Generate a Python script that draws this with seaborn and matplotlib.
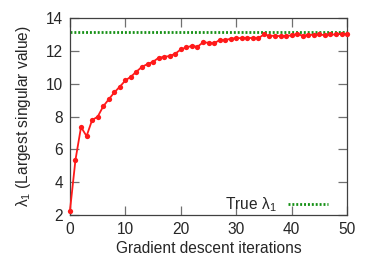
import numpy as np
import pandas as pd
import matplotlib
matplotlib.use("Agg")
import matplotlib.pyplot as plt
import seaborn as sns

# ---------------------------------------------------------------------------
# Dati
# ---------------------------------------------------------------------------

iterazioni = list(range(51))
lambda_stima = [
    2.26, 5.37, 7.36, 6.81, 7.79, 7.99, 8.62, 9.05, 9.47, 9.82,
    10.20, 10.43, 10.74, 11.03, 11.20, 11.34, 11.58, 11.64, 11.69, 11.83,
    12.09, 12.21, 12.31, 12.25, 12.52, 12.50, 12.46, 12.66, 12.66, 12.74,
    12.78, 12.78, 12.80, 12.78, 12.78, 13.00, 12.92, 12.92, 12.90, 12.92,
    12.94, 13.04, 12.92, 12.98, 12.98, 13.00, 12.96, 13.00, 13.00, 13.04,
    13.03,
]
lambda_vero = 13.15

# ---------------------------------------------------------------------------
# Configurazione
# ---------------------------------------------------------------------------

sns.set_style("ticks")
plt.rcParams["font.family"] = ["Liberation Sans", "DejaVu Sans"]
plt.rcParams["mathtext.fontset"] = "custom"
plt.rcParams["mathtext.rm"] = "Liberation Sans"
plt.rcParams["mathtext.it"] = "Liberation Sans"
plt.rcParams["mathtext.default"] = "rm"

FS = 11.2

df = pd.DataFrame({"iter": iterazioni, "lam": lambda_stima})

fig = plt.figure(figsize=(3.74, 2.62), dpi=100)
ax = fig.add_axes([0.187, 0.179, 0.741, 0.752])

sns.lineplot(
    data=df, x="iter", y="lam", ax=ax,
    color="#ff1a1a", linewidth=1.3, marker="o", markersize=3.8,
    markeredgewidth=0, clip_on=False, zorder=3,
)
ax.axhline(lambda_vero, color="#159015", linestyle=(0, (0.7, 0.7)),
           linewidth=2.0, label=r"True $\lambda_1$", zorder=2)

ax.set_xlim(0, 50)
ax.set_ylim(2, 14)
ax.set_xticks(range(0, 51, 10))
ax.set_yticks(range(2, 15, 2))
ax.set_xlabel("Gradient descent iterations", fontsize=FS, labelpad=3)
ax.set_ylabel(r"$\lambda_1$ (Largest singular value)", fontsize=FS, labelpad=9)

for lato in ["top", "right", "bottom", "left"]:
    ax.spines[lato].set_visible(True)
    ax.spines[lato].set_color("#404040")
    ax.spines[lato].set_linewidth(0.9)
ax.tick_params(direction="in", length=6.5, width=0.9, color="#707070",
               top=True, right=True, labelsize=FS, pad=5)

ax.legend(loc="lower right", frameon=False, markerfirst=False,
          handlelength=2.6, handletextpad=0.7, fontsize=FS,
          borderaxespad=0.0, bbox_to_anchor=(0.955, -0.025))

fig.savefig("out.png", dpi=100)
plt.close(fig)
